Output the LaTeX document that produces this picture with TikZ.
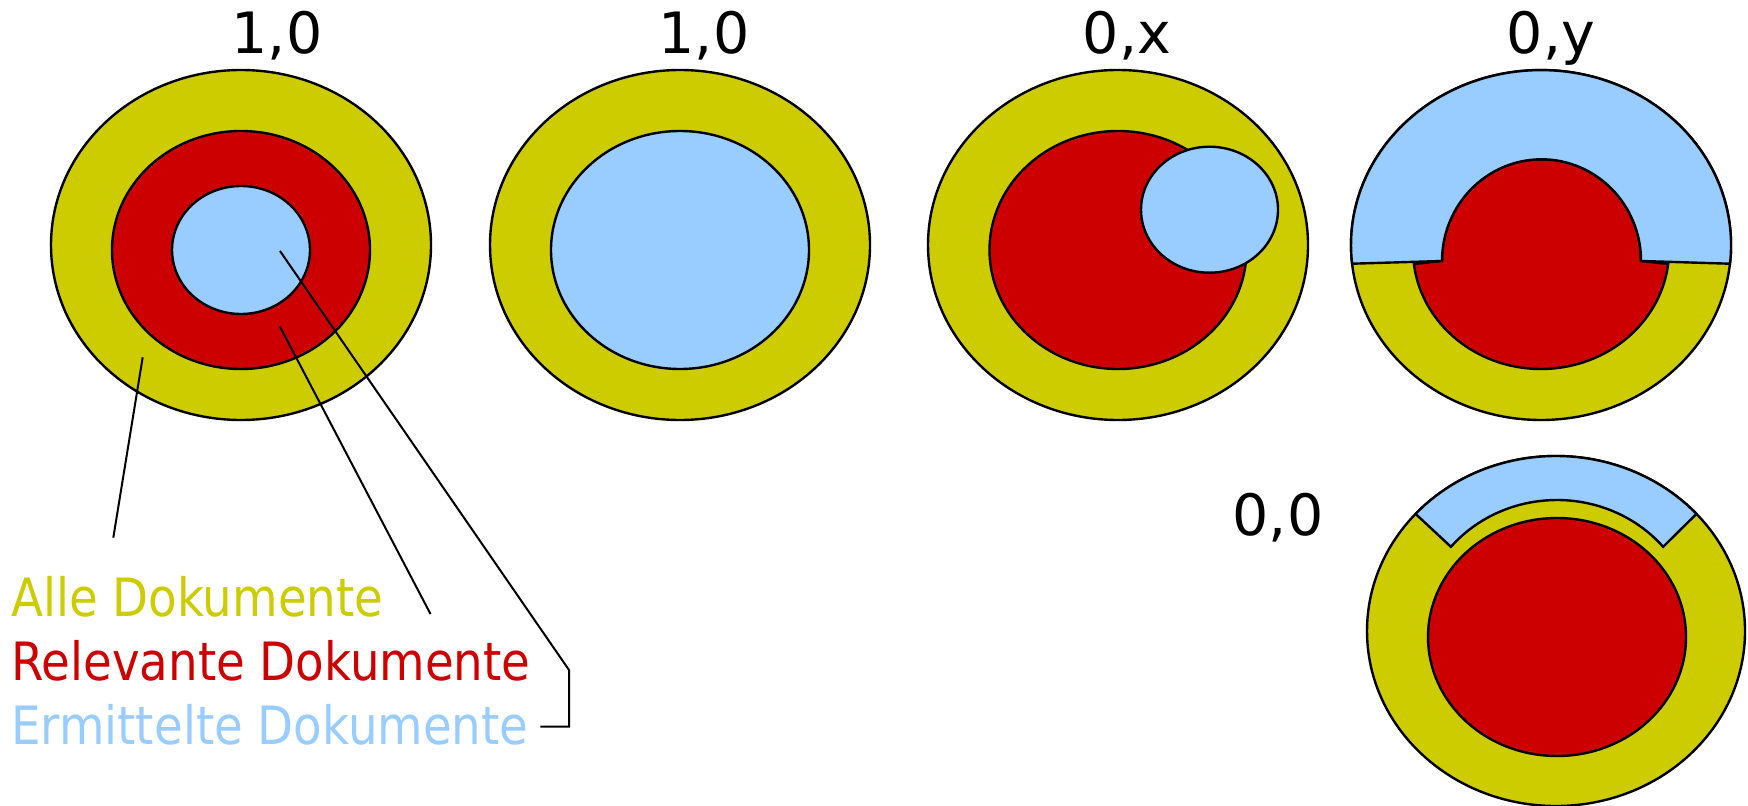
\documentclass[tikz,border=0pt]{standalone}
\usepackage{fontspec}
\setmainfont{DejaVu Sans}
\newfontfamily\legendfont[FakeStretch=0.885]{DejaVu Sans}
\definecolor{allecol}{HTML}{CCCC00}
\definecolor{relcol}{HTML}{CC0000}
\definecolor{ermcol}{HTML}{99CCFF}
\begin{document}
\begin{tikzpicture}[x=0.5pt,y=0.5pt,line width=1.2pt,
    alle/.style={draw,fill=allecol},
    rel/.style={draw,fill=relcol},
    erm/.style={draw,fill=ermcol},
    zeiger/.style={line width=1pt},
    titel/.style={anchor=base,inner sep=0pt,font=\fontsize{28.5}{30}\selectfont},
    legende/.style={anchor=base west,inner sep=0pt,font=\legendfont\fontsize{26.4}{28}\selectfont}]
    \useasboundingbox (0,0) rectangle (1748,805);
    % Titel
    \foreach \x/\t [count=\i] in {277/{1,0},704/{1,0},1127/{0,x},1551/{0,y}}
        \node [titel] (titel\i) at (\x,751.7) {\t};
    \node [titel] (titel5) at (1278,269.3) {0,0};
    % 1,0 -- Ermittelte innerhalb der Relevanten
    \draw [alle] (241,560) ellipse [x radius=190,y radius=175];
    \draw [rel] (241,555) ellipse [x radius=129,y radius=119];
    \draw [erm] (241,555) ellipse [x radius=69,y radius=64];
    % 1,0
    \draw [alle] (680,560) ellipse [x radius=190,y radius=175];
    \draw [erm] (680,555) ellipse [x radius=129,y radius=119];
    % 0,x
    \draw [alle] (1118,560) ellipse [x radius=190,y radius=175];
    \draw [rel] (1118,555) ellipse [x radius=128.5,y radius=119];
    \draw [erm] (1209.5,595.3) ellipse [x radius=68.5,y radius=63];
    % 0,y
    \draw [alle] (1541,560) ellipse [x radius=190,y radius=175];
    \draw [rel] (1641,544) arc [start angle=0,end angle=180,x radius=99.5,y radius=101.7]
        -- (1413.9,541) arc [start angle=186.76,end angle=353.24,x radius=128,y radius=119] -- cycle;
    \draw [erm] (1352.1,541.3) arc [start angle=186.1,end angle=-6.1,x radius=190,y radius=175]
        -- (1641,544) arc [start angle=0,end angle=180,x radius=99.5,y radius=101.7] -- cycle;
    % 0,0
    \draw [alle] (1556,174) ellipse [x radius=189,y radius=175];
    \draw [rel] (1557,168) ellipse [x radius=129,y radius=119];
    \draw [erm] (1556,174) ++(138:189 and 175) arc [start angle=138,end angle=42,x radius=189,y radius=175]
        -- (1663.1,258.2) arc [start angle=40,end angle=140,x radius=138.5,y radius=131] -- cycle;
    % Legende
    \node [legende,text=allecol] (legA) at (10,189) {Alle Dokumente};
    \node [legende,text=relcol] (legR) at (10,125) {Relevante Dokumente};
    \node [legende,text=ermcol] (legE) at (10,61) {Ermittelte Dokumente};
    \coordinate (zeigerA) at (142.7,447.7);
    \coordinate (zeigerR) at (280,478.3);
    \coordinate (zeigerE) at (280,554);
    \coordinate (endeA) at (113.3,267.3);
    \coordinate (endeR) at (430.5,191);
    \coordinate (knickE) at (569,135);
    \coordinate (endeE) at (540.4,78.3);
    \draw [zeiger] (zeigerA) -- (endeA);
    \draw [zeiger] (zeigerR) -- (endeR);
    \draw [zeiger] (zeigerE) -- (knickE) |- (endeE);
\end{tikzpicture}
\end{document}
